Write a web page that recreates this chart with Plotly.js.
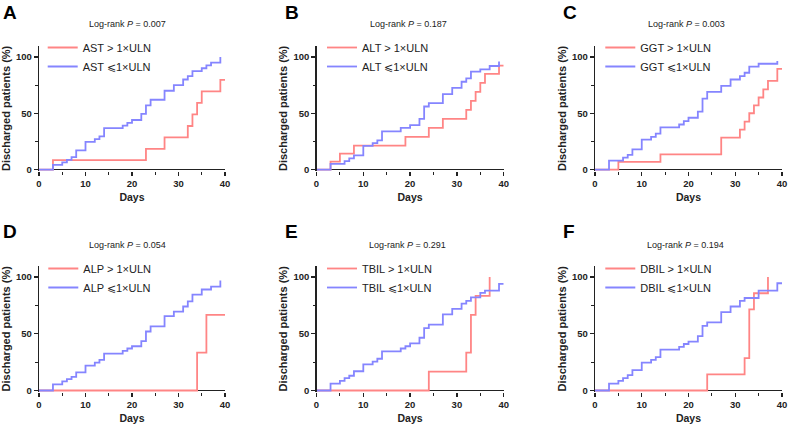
<!DOCTYPE html>
<html><head><meta charset="utf-8">
<script src="https://cdn.plot.ly/plotly-3.0.1.min.js"></script>
<style>html,body{margin:0;padding:0;background:#fff;}#chart{width:789px;height:426px;}</style>
</head><body><div id="chart"></div>
<script>
// ---------- data (days, cumulative % discharged) ----------
const panelLetters = ["A", "B", "C", "D", "E", "F"];
const markers = ["AST", "ALT", "GGT", "ALP", "TBIL", "DBIL"];
const pValues = ["0.007", "0.187", "0.003", "0.054", "0.291", "0.194"];

const astHighT = [0, 3, 23, 27, 32, 33, 34, 35, 39, 40];
const astHighY = [0, 8.3, 18.3, 28.5, 38.7, 49, 59.2, 69.4, 79.6, 79.6];
const astLowT = [0, 3, 5, 6, 7, 8, 10, 12, 13, 14, 18, 19, 20, 22, 23, 24, 27, 29, 31, 32, 33, 35, 36, 37, 39];
const astLowY = [0, 4.2, 6.3, 8.5, 11, 17, 24.6, 27, 29.4, 36.8, 39, 41.5, 44, 49.5, 57, 62, 70, 75, 80, 83, 87.5, 90, 92.5, 95, 100];

const altHighT = [0, 3, 5, 8, 19, 24, 27, 32, 33, 34, 35, 36, 39, 40];
const altHighY = [0, 7.1, 14.2, 21.3, 29, 37, 45, 53, 61, 69, 77, 85, 92.3, 92.3];
const altLowT = [0, 3, 6, 7, 8, 10, 12, 13, 14, 18, 20, 22, 23, 24, 27, 29, 31, 32, 33, 35, 37, 39];
const altLowY = [0, 5, 7.5, 10, 12.5, 21, 23.5, 26, 34, 37, 39.5, 45, 56, 59, 67, 72.6, 78, 81, 87, 89, 92, 96];

const ggtHighT = [0, 5, 14, 27, 31, 32, 33, 34, 35, 36, 37, 39, 40];
const ggtHighY = [0, 6.8, 13.4, 28.3, 35.4, 42.6, 50, 57, 64, 71.3, 78.8, 89.4, 89.4];
const ggtLowT = [0, 3, 6, 7, 8, 10, 12, 13, 14, 18, 19, 20, 22, 23, 24, 27, 29, 31, 32, 33, 35, 39];
const ggtLowY = [0, 8, 10.5, 13, 18, 26.5, 29, 32, 37.5, 40, 43, 46, 51.5, 63, 69, 74.3, 80, 83, 86, 91.4, 94, 96.5];

const alpHighT = [0, 34, 36, 40];
const alpHighY = [0, 33.3, 66.7, 66.7];
const alpLowT = [0, 3, 5, 6, 7, 8, 10, 12, 13, 14, 18, 19, 20, 22, 23, 24, 27, 29, 31, 32, 33, 35, 37, 39];
const alpLowY = [0, 5.5, 8, 10, 12, 16, 22, 24.5, 27, 32.5, 35, 37, 39, 43.5, 52, 56.5, 65.5, 69.5, 74, 78.5, 84.5, 89, 91.5, 97];

const tbilHighT = [0, 24, 32, 33, 34, 37];
const tbilHighY = [0, 16.7, 33.3, 66.7, 83.3, 100];
const tbilLowT = [0, 3, 5, 6, 7, 8, 10, 12, 13, 14, 18, 19, 20, 22, 23, 24, 27, 29, 31, 32, 33, 35, 36, 39, 40];
const tbilLowY = [0, 6, 8.5, 11, 13, 17, 23, 25.5, 28, 34.5, 37, 39, 41.5, 46.5, 55, 58, 67, 72, 76.5, 79, 82, 86, 88, 94, 94];

const dbilHighT = [0, 24, 32, 33, 34, 37];
const dbilHighY = [0, 14.3, 28.6, 71.4, 85.7, 100];
const dbilLowT = [0, 3, 5, 6, 7, 8, 10, 12, 13, 14, 18, 19, 20, 22, 23, 24, 27, 29, 31, 32, 35, 39, 40];
const dbilLowY = [0, 6, 8.5, 11, 13.5, 18, 24.5, 27, 29.5, 36, 38.5, 41, 43, 48, 57, 60, 69, 74, 79, 81.5, 88, 94.5, 94.5];

const xTickVals = [0, 10, 20, 30, 40];
const yTickVals = [0, 50, 100];

const series = [
  [astHighT, astHighY, astLowT, astLowY],
  [altHighT, altHighY, altLowT, altLowY],
  [ggtHighT, ggtHighY, ggtLowT, ggtLowY],
  [alpHighT, alpHighY, alpLowT, alpLowY],
  [tbilHighT, tbilHighY, tbilLowT, tbilLowY],
  [dbilHighT, dbilHighY, dbilLowT, dbilLowY]
];

// ---------- layout geometry (pixels) ----------
const W = 789, H = 426;
const FONT = "Arial, 'Liberation Sans', sans-serif";
const RED = "#ff8585", BLUE = "#8585ff", AX = "#222222";
const colPx = [[39, 225], [316.5, 503.7], [595, 782]];
const rowPx = [[45.75, 171], [265.65, 392]];
const letterPos = [[10, 13], [291.5, 13], [569.5, 13], [10, 231], [291, 231], [569, 231]];
const titlePos = [[127, 24], [408, 24], [686, 24], [128, 244.7], [407, 244.7], [685, 244.7]];
const legendPx = [[42.7, 33], [322, 33], [600.3, 33], [43.3, 254], [322, 254], [600.3, 254]];

const traces = [];
const layout = {
  width: W, height: H,
  margin: {l: 0, r: 0, t: 0, b: 0},
  paper_bgcolor: "#fff", plot_bgcolor: "rgba(0,0,0,0)",
  font: {family: FONT, color: AX},
  annotations: []
};

for (let i = 0; i < 6; i++) {
  const s = i === 0 ? "" : String(i + 1);
  const [hT, hY, lT, lY] = series[i];
  const legName = "legend" + s;
  traces.push({
    x: hT, y: hY, type: "scatter", mode: "lines",
    line: {shape: "hv", color: RED, width: 1.8},
    name: markers[i] + " > 1×ULN",
    xaxis: "x" + s, yaxis: "y" + s, legend: legName, hoverinfo: "skip"
  });
  traces.push({
    x: lT, y: lY, type: "scatter", mode: "lines",
    line: {shape: "hv", color: BLUE, width: 1.8},
    name: markers[i] + " ⩽1×ULN",
    xaxis: "x" + s, yaxis: "y" + s, legend: legName, hoverinfo: "skip"
  });
  const c = colPx[i % 3], r = rowPx[Math.floor(i / 3)];
  layout["xaxis" + s] = {
    domain: [c[0] / W, c[1] / W], anchor: "y" + s,
    range: [0, 40], tickmode: "array", tickvals: xTickVals,
    ticks: "outside", ticklen: 4, tickwidth: 1.3, tickcolor: AX,
    minor: {dtick: 5, tick0: 0, ticks: "outside", ticklen: 2.5, tickwidth: 1.2, tickcolor: AX, showgrid: false},
    showline: false, zeroline: false, showgrid: false,
    tickfont: {family: FONT, size: 9.5, weight: 700, color: AX},
    title: {text: "Days", font: {family: FONT, size: 10.5, weight: 700, color: AX}, standoff: 5},
    fixedrange: true
  };
  layout["yaxis" + s] = {
    domain: [1 - r[1] / H, 1 - r[0] / H], anchor: "x" + s,
    range: [-1.3, 110], tickmode: "array", tickvals: yTickVals,
    ticks: "outside", ticklen: 4, tickwidth: 1.3, tickcolor: AX,
    minor: {dtick: 25, tick0: 0, ticks: "outside", ticklen: 2.5, tickwidth: 1.2, tickcolor: AX, showgrid: false},
    showline: true, linecolor: AX, linewidth: 1.3,
    zeroline: true, zerolinecolor: AX, zerolinewidth: 1.3, showgrid: false,
    tickfont: {family: FONT, size: 9.5, weight: 700, color: AX},
    title: {text: "Discharged patients (%)", font: {family: FONT, size: 11, weight: 700, color: AX}, standoff: 3},
    fixedrange: true
  };
  layout[legName] = {
    x: legendPx[i][0] / W, y: 1 - legendPx[i][1] / H, xanchor: "left", yanchor: "top",
    bgcolor: "rgba(0,0,0,0)", borderwidth: 0,
    font: {family: FONT, size: 11, color: AX}, itemwidth: 30, tracegroupgap: 0
  };
  layout.annotations.push({
    xref: "paper", yref: "paper", x: letterPos[i][0] / W, y: 1 - letterPos[i][1] / H,
    xanchor: "center", yanchor: "middle", showarrow: false,
    text: panelLetters[i], font: {family: FONT, size: 19, weight: 700, color: "#000"}
  });
  layout.annotations.push({
    xref: "paper", yref: "paper", x: titlePos[i][0] / W, y: 1 - titlePos[i][1] / H,
    xanchor: "center", yanchor: "middle", showarrow: false,
    text: "Log-rank <i>P</i> = " + pValues[i], font: {family: FONT, size: 9, color: AX}
  });
}

Plotly.newPlot("chart", traces, layout, {displayModeBar: false, staticPlot: true});
</script>
</body></html>
